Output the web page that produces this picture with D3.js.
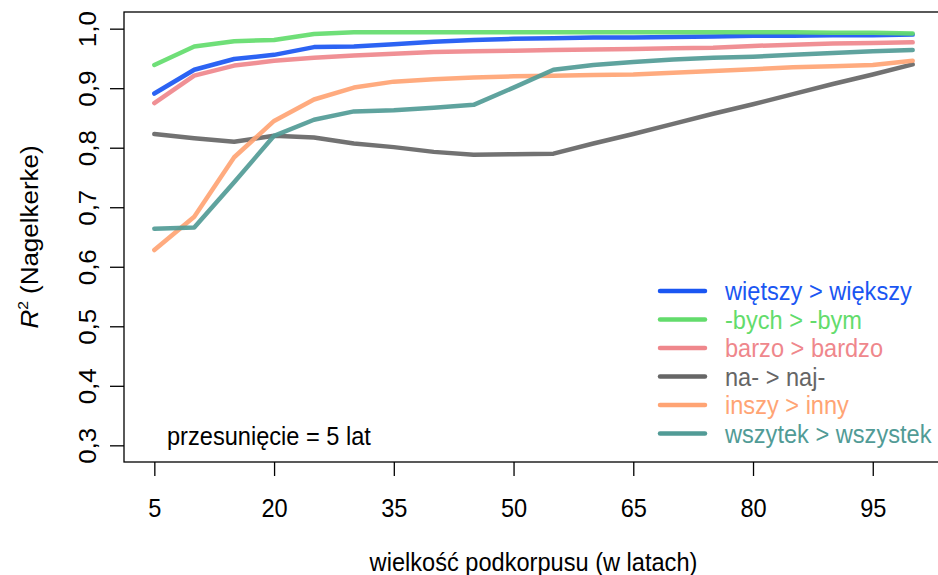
<!DOCTYPE html>
<html>
<head>
<meta charset="utf-8">
<script src="https://cdn.jsdelivr.net/npm/d3@7/dist/d3.min.js"></script>
<style>
  html, body { margin: 0; padding: 0; background: #fff; }
  svg { display: block; font-family: "Liberation Sans", Arial, Helvetica, sans-serif; }
</style>
</head>
<body>
<svg id="chart" width="938" height="575"></svg>
<script>
// Subcorpus sizes (years) at which the models were fitted
const sizes = [5, 10, 15, 20, 25, 30, 35, 40, 45, 50, 55, 60, 65, 70, 75, 80, 85, 90, 95, 100];

// Nagelkerke R² for each change
const wietszy  = [0.891, 0.931, 0.949, 0.956, 0.969, 0.970, 0.974, 0.978, 0.981, 0.983, 0.984, 0.985, 0.985, 0.986, 0.987, 0.988, 0.988, 0.989, 0.989, 0.990];
const bych     = [0.939, 0.970, 0.979, 0.981, 0.991, 0.994, 0.994, 0.994, 0.994, 0.994, 0.994, 0.994, 0.994, 0.994, 0.994, 0.994, 0.994, 0.993, 0.993, 0.992];
const barzo    = [0.875, 0.921, 0.938, 0.946, 0.951, 0.955, 0.958, 0.961, 0.962, 0.963, 0.964, 0.965, 0.966, 0.967, 0.968, 0.971, 0.973, 0.975, 0.976, 0.977];
const naj      = [0.823, 0.816, 0.810, 0.820, 0.817, 0.807, 0.801, 0.793, 0.788, 0.789, 0.790, 0.807, 0.823, 0.840, 0.857, 0.873, 0.890, 0.907, 0.923, 0.940];
const inszy    = [0.628, 0.684, 0.784, 0.845, 0.881, 0.901, 0.911, 0.915, 0.918, 0.920, 0.921, 0.922, 0.923, 0.926, 0.929, 0.932, 0.935, 0.937, 0.939, 0.946];
const wszytek  = [0.664, 0.666, 0.742, 0.820, 0.847, 0.861, 0.863, 0.867, 0.872, 0.901, 0.931, 0.939, 0.944, 0.948, 0.951, 0.953, 0.956, 0.959, 0.962, 0.964];

const seriesNames = ["więtszy > większy", "-bych > -bym", "barzo > bardzo", "na- > naj-", "inszy > inny", "wszytek > wszystek"];
const seriesValues = [wietszy, bych, barzo, naj, inszy, wszytek];
const seriesColors = ["#1a56f2", "#63dc6c", "#ef878c", "#666666", "#ffa474", "#519b96"];

const xTicks = [5, 20, 35, 50, 65, 80, 95];
const yTicks = [0.3, 0.4, 0.5, 0.6, 0.7, 0.8, 0.9, 1.0];

const shiftLabel = "przesunięcie = 5 lat";
const xTitle = "wielkość podkorpusu (w latach)";

const svg = d3.select("#chart");
const fs = 23.6;
// glyphs are drawn slightly taller than wide
const tall = 1.1;

// plot region (x padded 4% each side, y likewise)
const pLeft = 124, pRight = 943, pTop = 12, pBottom = 462;
const x = d3.scaleLinear().domain([5 - 3.8, 100 + 3.8]).range([pLeft, pRight]);
const y = d3.scaleLinear().domain([0.3 - 0.028, 1.0 + 0.028]).range([pBottom, pTop]);

const fmt = d => d3.format(".1f")(d).replace(".", ",");

// x axis
const xAxis = svg.append("g").attr("transform", `translate(0,${pBottom})`)
  .call(d3.axisBottom(x).tickValues(xTicks).tickSize(14).tickPadding(22).tickFormat(d3.format("d")));
xAxis.select(".domain").remove();
xAxis.selectAll("line").attr("stroke", "#000").attr("stroke-width", 1.3);
xAxis.selectAll("text")
  .attr("font-size", fs).attr("fill", "#000").attr("font-family", null)
  .attr("y", null).attr("dy", null)
  .attr("transform", `translate(0,46) scale(1,${tall})`)
  .attr("dy", "0.36em");

// y axis with labels parallel to the axis
const yAxis = svg.append("g").attr("transform", `translate(${pLeft},0)`)
  .call(d3.axisLeft(y).tickValues(yTicks).tickSize(14).tickFormat(fmt));
yAxis.select(".domain").remove();
yAxis.selectAll("line").attr("stroke", "#000").attr("stroke-width", 1.3);
yAxis.selectAll("text")
  .attr("font-size", fs).attr("fill", "#000").attr("font-family", null)
  .attr("x", null)
  .attr("text-anchor", "middle")
  .attr("transform", `translate(-37,0) rotate(-90) scale(${tall},1)`)
  .attr("dy", "0.36em");

// lines
const line = d3.line().x((d, i) => x(sizes[i])).y(d => y(d));
seriesValues.forEach((vals, k) => {
  svg.append("path")
    .datum(vals)
    .attr("d", line)
    .attr("fill", "none")
    .attr("stroke", seriesColors[k])
    .attr("stroke-width", 4.5)
    .attr("stroke-linejoin", "round")
    .attr("stroke-linecap", "round")
    .attr("opacity", 0.92);
});

// box
svg.append("rect")
  .attr("x", pLeft).attr("y", pTop)
  .attr("width", pRight - pLeft).attr("height", pBottom - pTop)
  .attr("fill", "none").attr("stroke", "#000").attr("stroke-width", 1.3);

// legend
const lg = svg.append("g");
seriesNames.forEach((name, k) => {
  const ly = 291 + k * 28.5;
  lg.append("line")
    .attr("x1", 660).attr("x2", 705).attr("y1", ly).attr("y2", ly)
    .attr("stroke", seriesColors[k]).attr("stroke-width", 4.5).attr("stroke-linecap", "round");
  lg.append("text")
    .attr("transform", `translate(725,${ly}) scale(1,${tall})`)
    .attr("dy", "0.35em")
    .attr("font-size", fs).attr("fill", seriesColors[k])
    .text(name);
});

// shift annotation
svg.append("text")
  .attr("transform", `translate(167,436) scale(1,${tall})`)
  .attr("dy", "0.35em")
  .attr("font-size", fs).attr("fill", "#000")
  .text(shiftLabel);

// axis titles
svg.append("text")
  .attr("transform", `translate(${(pLeft + pRight) / 2},562) scale(1,${tall})`)
  .attr("dy", "0.35em")
  .attr("text-anchor", "middle").attr("font-size", fs).attr("fill", "#000")
  .text(xTitle);

const yt = svg.append("text")
  .attr("transform", `translate(30,${(pTop + pBottom) / 2}) rotate(-90) scale(${tall},1)`)
  .attr("text-anchor", "middle").attr("dy", "0.35em")
  .attr("font-size", fs).attr("fill", "#000");
yt.append("tspan").attr("font-style", "italic").text("R");
yt.append("tspan").attr("font-size", fs * 0.6).attr("dy", "-0.75em").text("2");
yt.append("tspan").attr("dy", "0.45em").text(" (Nagelkerke)");
</script>
</body>
</html>
